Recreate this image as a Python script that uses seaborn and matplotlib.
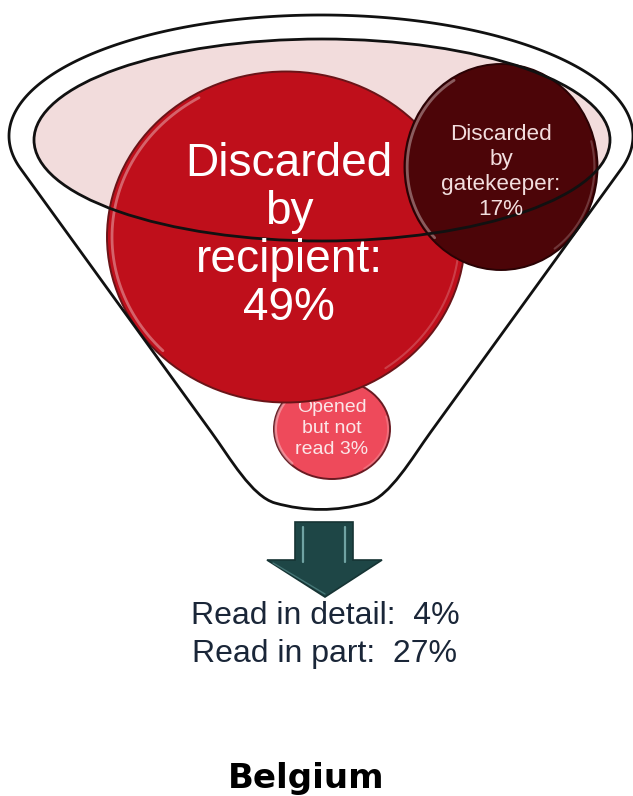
import numpy as np
import matplotlib
matplotlib.use("Agg")
import matplotlib.pyplot as plt
from matplotlib.patches import Ellipse, Polygon, PathPatch
from matplotlib.path import Path
import seaborn as sns

# ---------------- data ----------------
stage_lines = [["Discarded", "by", "recipient:"],
               ["Discarded", "by", "gatekeeper:"],
               ["Opened", "but not", "read"]]
stage_pct = [49, 17, 3]
read_labels = ["Read in detail:", "Read in part:"]
read_pct = [4, 27]
country = "Belgium"

# ---------------- style ----------------
sns.set_theme(style="white")
plt.rcParams["font.family"] = ["Liberation Sans", "DejaVu Sans"]

W, H = 633, 796
fig = plt.figure(figsize=(W / 100, H / 100), dpi=100)
ax = fig.add_axes([0, 0, 1, 1])
ax.set_xlim(0, W)
ax.set_ylim(H, 0)
ax.axis("off")

# ---------------- funnel outline ----------------
cx, ecy, ea, eb = 321, 136, 312, 121
t = np.radians(np.linspace(195.7, -15.7, 200))
arc_x = cx + ea * np.cos(t)
arc_y = ecy - eb * np.sin(t)
verts = [(arc_x[i], arc_y[i]) for i in range(len(t))]
codes = [Path.MOVETO] + [Path.LINETO] * (len(t) - 1)
sx = arc_x[-1] - cx          # half width at the tangent point
sy = arc_y[-1]
slope = 0.724
ly = 432
lx = sx - slope * (ly - sy)  # half width where the straight side ends
c1 = (lx - slope * 26, ly + 26)
c2 = (46 + 46 * 0.5, 503 - 13 * 0.5)
verts += [(cx + lx, ly)]
codes += [Path.LINETO]
verts += [(cx + c1[0], c1[1]), (cx + c2[0], c2[1]), (cx + 46, 503)]
codes += [Path.CURVE4] * 3
verts += [(cx, 516), (cx - 46, 503)]
codes += [Path.CURVE3] * 2
verts += [(cx - c2[0], c2[1]), (cx - c1[0], c1[1]), (cx - lx, ly)]
codes += [Path.CURVE4] * 3
verts += [(arc_x[0], arc_y[0])]
codes += [Path.LINETO]
funnel = PathPatch(Path(verts, codes), facecolor="none", edgecolor="#111111",
                   lw=2.0, zorder=5, joinstyle="round")
ax.add_patch(funnel)

# inner rim ellipse (fill behind circles, outline in front)
ax.add_patch(Ellipse((322, 140), 576, 202, facecolor="#f2dcdc",
                     edgecolor="none", zorder=1))
ax.add_patch(Ellipse((322, 140), 576, 202, facecolor="none",
                     edgecolor="#111111", lw=2.0, zorder=5))

# ---------------- bubbles ----------------
bubble_pos = [(286, 237), (501, 167), (332, 429)]
bubble_size = [(358, 331), (193, 206), (116, 100)]
bubble_col = ["#bf0f1b", "#4c0508", "#ee4a5b"]
bubble_edge = ["#6a1418", "#2a0204", "#6a1a22"]
text_col = ["#ffffff", "#f2dede", "#fbe6e8"]
font_px = [46, 22.5, 19.5]
line_gap = [48, 25, 21]
first_base = [176, 140, 412]
layer = [2.0, 2.4, 1.5]

for i in range(3):
    (x0, y0), (w, h) = bubble_pos[i], bubble_size[i]
    z = layer[i]
    ax.add_patch(Ellipse((x0, y0), w, h, facecolor=bubble_col[i],
                         edgecolor=bubble_edge[i], lw=1.4, zorder=z))
    # glossy rim highlights
    th = np.radians(np.linspace(135, 240, 60))
    ax.plot(x0 + 0.486 * w * np.cos(th), y0 + 0.486 * h * np.sin(th),
            color="white", alpha=0.35, lw=2.0, zorder=z + 0.01,
            solid_capstyle="round")
    th2 = np.radians(np.linspace(-15, 55, 40))
    ax.plot(x0 + 0.484 * w * np.cos(th2), y0 + 0.484 * h * np.sin(th2),
            color="white", alpha=0.2, lw=1.5, zorder=z + 0.01,
            solid_capstyle="round")

    lines = list(stage_lines[i])
    if i == 2:
        lines[-1] = f"{lines[-1]} {stage_pct[i]}%"
    else:
        lines.append(f"{stage_pct[i]}%")
    fs = font_px[i] * 72 / 100
    tz = 6 if i < 2 else z + 0.02
    for k, txt in enumerate(lines):
        ax.text(x0 + (3 if i == 0 else 0), first_base[i] + k * line_gap[i], txt,
                ha="center", va="baseline", fontsize=fs, color=text_col[i],
                zorder=tz)

# ---------------- arrow ----------------
arrow = Polygon([(295, 522), (353, 522), (353, 560), (382, 560), (325, 597),
                 (267, 560), (295, 560)], closed=True, facecolor="#1e4646",
                edgecolor="#163434", lw=1.2, zorder=2)
ax.add_patch(arrow)
ax.plot([303, 303], [527, 562], color="#7fb4b4", lw=1.6, alpha=0.85, zorder=3)
ax.plot([345, 345], [527, 562], color="#7fb4b4", lw=1.6, alpha=0.85, zorder=3)
ax.plot([273, 325], [563, 594], color="#5f9595", lw=1.0, alpha=0.6, zorder=3)

# ---------------- read text ----------------
read_fs = 32 * 72 / 100
for k, (lab, p) in enumerate(zip(read_labels, read_pct)):
    ax.text(325, 624 + k * 38, f"{lab}  {p}%", ha="center", va="baseline",
            fontsize=read_fs, color="#1a2638", zorder=6)

# ---------------- country title ----------------
ax.text(306, 788, country, ha="center", va="baseline", fontsize=24.5,
        fontweight="bold", family=["DejaVu Sans"], color="black")

fig.savefig("out.png", dpi=100)
